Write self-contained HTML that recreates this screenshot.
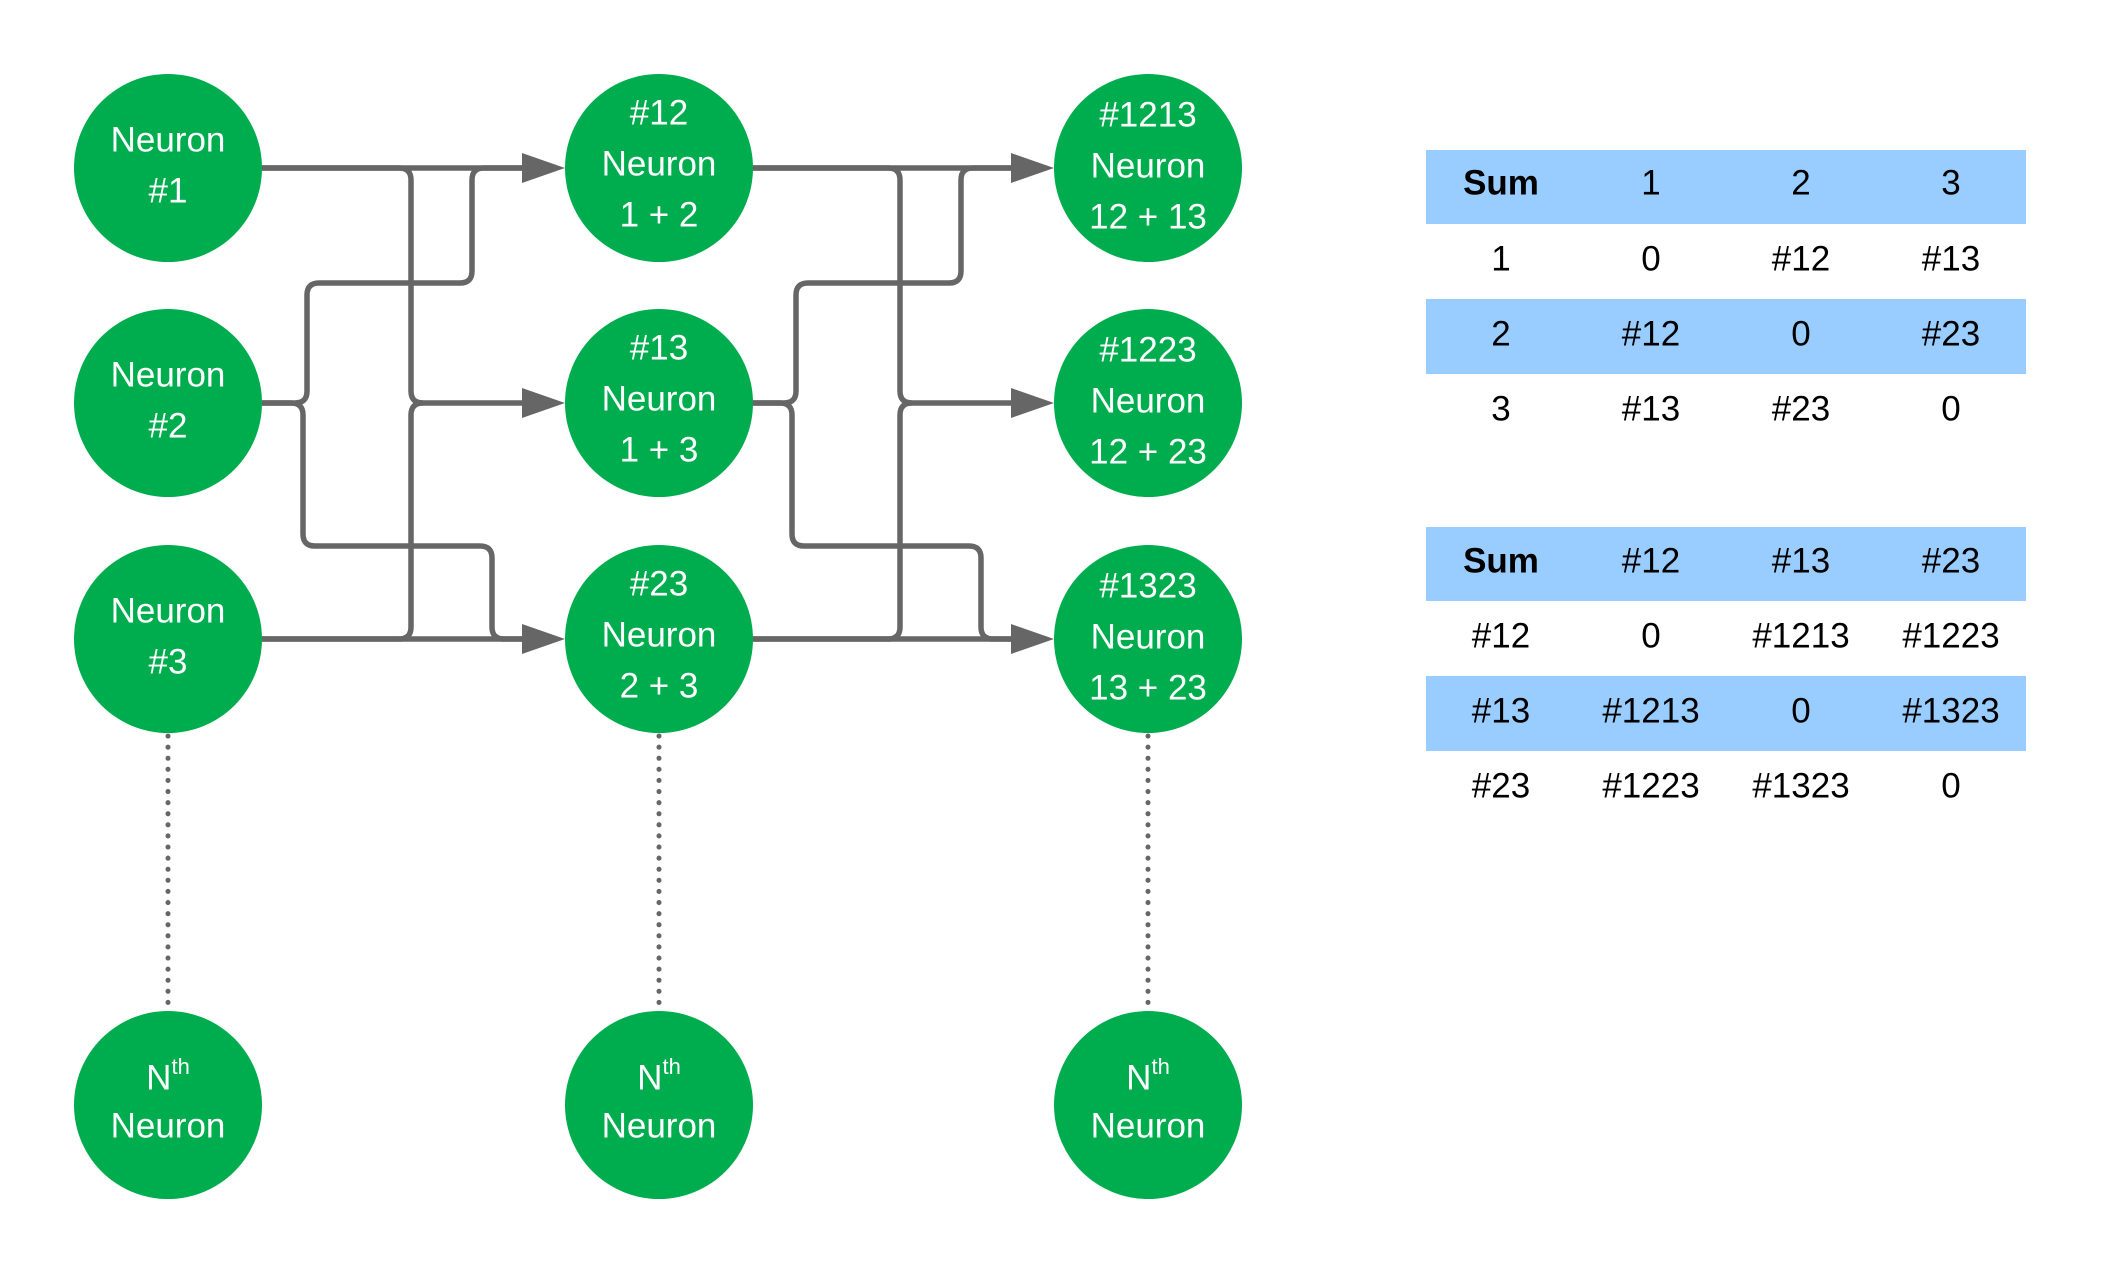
<!DOCTYPE html>
<html><head><meta charset="utf-8"><style>
html,body{margin:0;padding:0;background:#fff;}
svg{display:block;}
text{font-family:"Liberation Sans",Arial,sans-serif;}
</style></head><body>
<svg width="2102" height="1275" viewBox="0 0 2102 1275" xmlns="http://www.w3.org/2000/svg">
<defs>
<g id="conn" fill="none" stroke="#666" stroke-width="5.5" stroke-linejoin="round">
<path d="M262 168 H528"/>
<path d="M262 639 H528"/>
<path d="M262 168 H399 Q411 168 411 180 V391 Q411 403 423 403 H528"/>
<path d="M262 639 H399 Q411 639 411 627 V415 Q411 403 423 403"/>
<path d="M262 403 H295 Q307 403 307 391 V295 Q307 283 319 283 H460 Q472 283 472 271 V180 Q472 168 484 168 H528"/>
<path d="M262 403 H291 Q303 403 303 415 V534 Q303 546 315 546 H480 Q492 546 492 558 V627 Q492 639 504 639 H528"/>
<polygon points="565,168 522,153 522,183" fill="#666" stroke="none"/>
<polygon points="565,403 522,388 522,418" fill="#666" stroke="none"/>
<polygon points="565,639 522,624 522,654" fill="#666" stroke="none"/>
</g>
</defs>
<use href="#conn"/>
<use href="#conn" transform="translate(489,0)"/>
<g stroke="#666" stroke-width="5" stroke-dasharray="0.1 11" stroke-linecap="round">
<line x1="168" y1="736" x2="168" y2="1012"/>
<line x1="659" y1="736" x2="659" y2="1012"/>
<line x1="1148" y1="736" x2="1148" y2="1012"/>
</g>
<g fill="#00ad4e">
<circle cx="168" cy="168" r="94"/><circle cx="168" cy="403" r="94"/><circle cx="168" cy="639" r="94"/><circle cx="168" cy="1105" r="94"/>
<circle cx="659" cy="168" r="94"/><circle cx="659" cy="403" r="94"/><circle cx="659" cy="639" r="94"/><circle cx="659" cy="1105" r="94"/>
<circle cx="1148" cy="168" r="94"/><circle cx="1148" cy="403" r="94"/><circle cx="1148" cy="639" r="94"/><circle cx="1148" cy="1105" r="94"/>
</g>
<g fill="#fff" font-size="35" text-anchor="middle" dominant-baseline="central">
<text x="168" y="140">Neuron</text><text x="168" y="191">#1</text>
<text x="168" y="375">Neuron</text><text x="168" y="426">#2</text>
<text x="168" y="611">Neuron</text><text x="168" y="662">#3</text>
<text x="659" y="113">#12</text><text x="659" y="164">Neuron</text><text x="659" y="215">1 + 2</text>
<text x="659" y="348">#13</text><text x="659" y="399">Neuron</text><text x="659" y="450">1 + 3</text>
<text x="659" y="584">#23</text><text x="659" y="635">Neuron</text><text x="659" y="686">2 + 3</text>
<text x="1148" y="115">#1213</text><text x="1148" y="166">Neuron</text><text x="1148" y="217">12 + 13</text>
<text x="1148" y="350">#1223</text><text x="1148" y="401">Neuron</text><text x="1148" y="452">12 + 23</text>
<text x="1148" y="586">#1323</text><text x="1148" y="637">Neuron</text><text x="1148" y="688">13 + 23</text>
<text x="168" y="1078">N<tspan font-size="22" dy="-12">th</tspan></text><text x="168" y="1126">Neuron</text>
<text x="659" y="1078">N<tspan font-size="22" dy="-12">th</tspan></text><text x="659" y="1126">Neuron</text>
<text x="1148" y="1078">N<tspan font-size="22" dy="-12">th</tspan></text><text x="1148" y="1126">Neuron</text>
</g>
<g fill="#99ccff">
<rect x="1426" y="150" width="600" height="74"/>
<rect x="1426" y="299" width="600" height="75"/>
<rect x="1426" y="527" width="600" height="74"/>
<rect x="1426" y="676" width="600" height="75"/>
</g>
<g fill="#000" font-size="35" text-anchor="middle" dominant-baseline="central">
<text x="1501" y="183" font-weight="bold">Sum</text><text x="1651" y="183">1</text><text x="1801" y="183">2</text><text x="1951" y="183">3</text>
<text x="1501" y="259">1</text><text x="1651" y="259">0</text><text x="1801" y="259">#12</text><text x="1951" y="259">#13</text>
<text x="1501" y="334">2</text><text x="1651" y="334">#12</text><text x="1801" y="334">0</text><text x="1951" y="334">#23</text>
<text x="1501" y="409">3</text><text x="1651" y="409">#13</text><text x="1801" y="409">#23</text><text x="1951" y="409">0</text>
<text x="1501" y="561" font-weight="bold">Sum</text><text x="1651" y="561">#12</text><text x="1801" y="561">#13</text><text x="1951" y="561">#23</text>
<text x="1501" y="636">#12</text><text x="1651" y="636">0</text><text x="1801" y="636">#1213</text><text x="1951" y="636">#1223</text>
<text x="1501" y="711">#13</text><text x="1651" y="711">#1213</text><text x="1801" y="711">0</text><text x="1951" y="711">#1323</text>
<text x="1501" y="786">#23</text><text x="1651" y="786">#1223</text><text x="1801" y="786">#1323</text><text x="1951" y="786">0</text>
</g>
</svg>
</body></html>
